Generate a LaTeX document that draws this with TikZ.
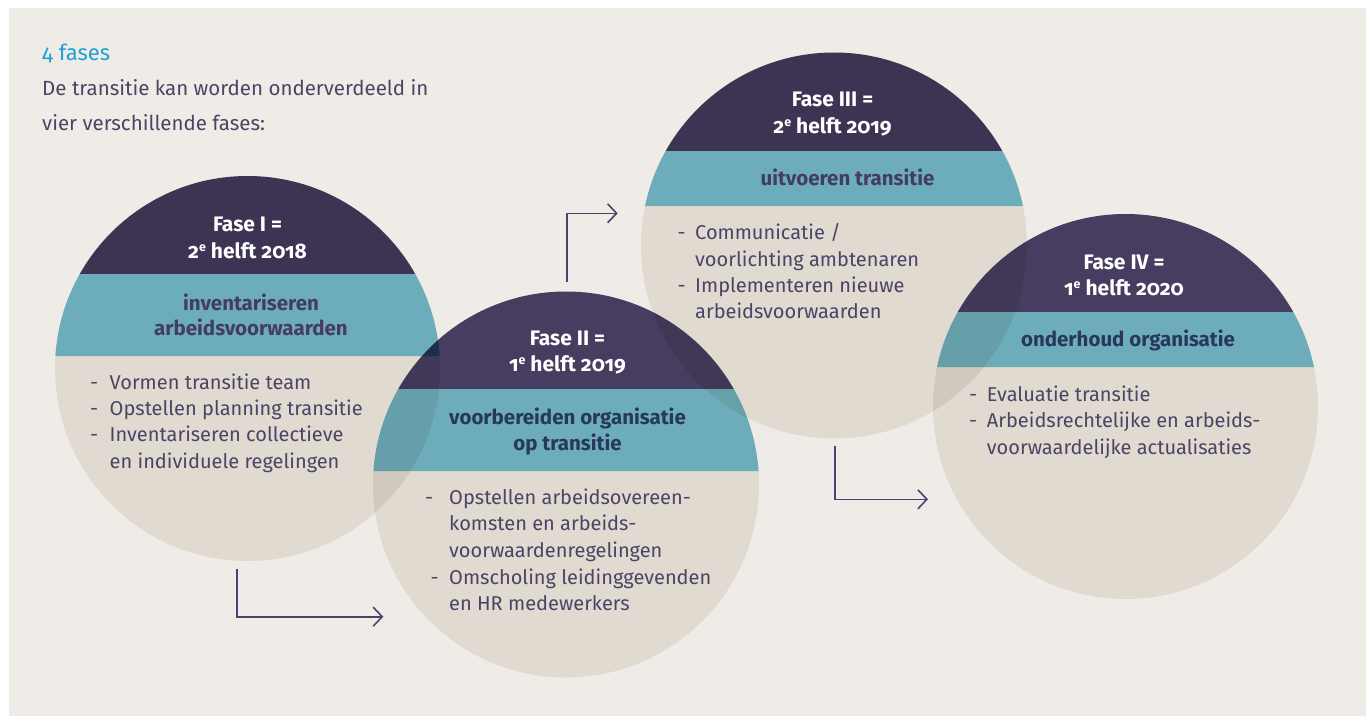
\documentclass[tikz,border=0pt]{standalone}
\usepackage{fontspec}
\setmainfont{Fira Sans}[Numbers=OldStyle,RawFeature={+onum}]
\usetikzlibrary{arrows.meta}
\definecolor{bgc}{RGB}{239,236,231}
\definecolor{beigeM}{RGB}{239,236,231}
\definecolor{tealM}{RGB}{117,187,207}
\definecolor{darkA}{RGB}{66,57,92}
\definecolor{darkB}{RGB}{75,66,107}
\definecolor{txt}{RGB}{74,68,102}
\definecolor{cyanT}{RGB}{30,162,210}
\definecolor{bandA}{RGB}{68,60,100}
\definecolor{bandB}{RGB}{40,55,92}
\definecolor{arrowc}{RGB}{74,66,112}
\newcommand\phasecirc[6]{%
  \begin{scope}[blend mode=multiply]
  \begin{scope}[transparency group]
    \clip (#1,#2) circle[radius=#3];
    \fill[beigeM] ({#1-#3},{#2-#3}) rectangle ({#1+#3},{#2+#3});
    \fill[#6] ({#1-#3},{#2-#3}) rectangle ({#1+#3},#4);
    \fill[tealM] ({#1-#3},#4) rectangle ({#1+#3},#5);
  \end{scope}
  \end{scope}}
\newcommand\supe{\raisebox{0.62ex}{\fontsize{12.5}{12.5}\selectfont e}}
\begin{document}
\begin{tikzpicture}[x=1pt,y=-1pt,
  titlet/.style={anchor=base,inner sep=0,text=white,font=\fontsize{21}{27}\selectfont\bfseries},
  bandt/.style={anchor=base,inner sep=0,font=\fontsize{20.5}{26}\selectfont\bfseries},
  bodyt/.style={anchor=base west,inner sep=0,text=txt,font=\fontsize{20}{26}\selectfont},
  introt/.style={anchor=base west,inner sep=0,text=txt,font=\fontsize{20.5}{28}\selectfont},
  flow/.style={draw=arrowc,line width=1.6pt,-{Straight Barb[length=9pt,width=19pt,line width=1.6pt]}}]
\useasboundingbox (0,0) rectangle (1370,716);
\fill[white] (0,0) rectangle (1370,716);
\fill[bgc] (9,8) rectangle (1366,716);

\phasecirc{247.5}{368.5}{192.5}{274}{356}{darkA}
\phasecirc{566}{484.5}{193}{389}{471}{darkB}
\phasecirc{834}{245.5}{193}{151}{206}{darkA}
\phasecirc{1125.5}{406.5}{192.5}{312}{367}{darkB}

% intro
\node[introt,text=cyanT,font=\fontsize{22}{28}\selectfont] (i0) at (42,60.5) {4 fases};
\node[introt] (i1) at (42,95.5) {De transitie kan worden onderverdeeld in};
\node[introt] (i2) at (42,130) {vier verschillende fases:};

% circle I
\node[titlet] (t1a) at (247.5,231) {Fase I =};
\node[titlet] (t1b) at (247.5,258) {2\supe\ helft 2018};
\node[bandt,text=bandA] (p1a) at (251,310) {inventariseren};
\node[bandt,text=bandA] (p1b) at (251,335) {arbeidsvoorwaarden};
\node[bodyt] (d1a) at (90,389) {-};
\node[bodyt] (d1b) at (90,415) {-};
\node[bodyt] (d1c) at (90,441.5) {-};
\node[bodyt] (l1a) at (109.5,389) {Vormen transitie team};
\node[bodyt] (l1b) at (109.5,415) {Opstellen planning transitie};
\node[bodyt] (l1c) at (109.5,441.5) {Inventariseren collectieve};
\node[bodyt] (l1d) at (109.5,468) {en individuele regelingen};

% circle II
\node[titlet] (t2a) at (567.5,345.7) {Fase II =};
\node[titlet] (t2b) at (567.5,371.7) {1\supe\ helft 2019};
\node[bandt,text=bandB] (p2a) at (567.5,424) {voorbereiden organisatie};
\node[bandt,text=bandB] (p2b) at (567.5,450.7) {op transitie};
\node[bodyt] (d2a) at (425,504) {-};
\node[bodyt] (d2b) at (430.5,584) {-};
\node[bodyt] (l2a) at (449,504) {Opstellen arbeidsovereen-};
\node[bodyt] (l2b) at (449,530.7) {komsten en arbeids-};
\node[bodyt] (l2c) at (449,557.3) {voorwaardenregelingen};
\node[bodyt] (l2d) at (449,584) {Omscholing leidinggevenden};
\node[bodyt] (l2e) at (449,610.7) {en HR medewerkers};

% circle III
\node[titlet] (t3a) at (832.5,106.7) {Fase III =};
\node[titlet] (t3b) at (832.5,133.3) {2\supe\ helft 2019};
\node[bandt,text=bandA] (p3a) at (847.5,185.7) {uitvoeren transitie};
\node[bodyt] (d3a) at (677.5,239.3) {-};
\node[bodyt] (d3b) at (677.5,292.7) {-};
\node[bodyt] (l3a) at (695,239.3) {Communicatie /};
\node[bodyt] (l3b) at (695,266) {voorlichting ambtenaren};
\node[bodyt] (l3c) at (695,292.7) {Implementeren nieuwe};
\node[bodyt] (l3d) at (695,318.3) {arbeidsvoorwaarden};

% circle IV
\node[titlet] (t4a) at (1124,269) {Fase IV =};
\node[titlet] (t4b) at (1124,295.7) {1\supe\ helft 2020};
\node[bandt,text=bandB] (p4a) at (1128,346.7) {onderhoud organisatie};
\node[bodyt] (d4a) at (969,401) {-};
\node[bodyt] (d4b) at (969,427.7) {-};
\node[bodyt] (l4a) at (986.7,401) {Evaluatie transitie};
\node[bodyt] (l4b) at (986.7,427.7) {Arbeidsrechtelijke en arbeids-};
\node[bodyt] (l4c) at (986.7,454) {voorwaardelijke actualisaties};

% connectors
\coordinate (a1s) at (236.7,569.3);
\coordinate (a1e) at (383.3,616.7);
\coordinate (a2s) at (566.7,281.7);
\coordinate (a2e) at (617.7,213.3);
\coordinate (a3s) at (835,446);
\coordinate (a3e) at (928,499.3);
\draw[flow] (a1s) |- (a1e);
\draw[flow] (a2s) |- (a2e);
\draw[flow] (a3s) |- (a3e);
\end{tikzpicture}
\end{document}
